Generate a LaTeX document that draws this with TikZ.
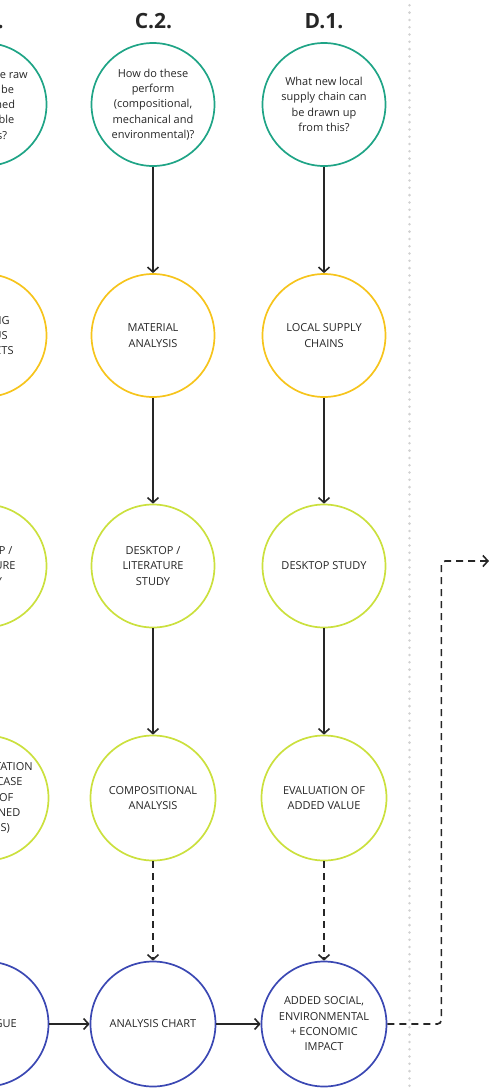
\documentclass[tikz,border=0pt]{standalone}
\usepackage{fontspec}
\setmainfont{Open Sans}
\usetikzlibrary{arrows.meta}

\definecolor{qgreen}{HTML}{1FA486}
\definecolor{syellow}{HTML}{F6C41C}
\definecolor{slime}{HTML}{CBE03E}
\definecolor{oblue}{HTML}{3B48B3}
\definecolor{ink}{HTML}{262626}
\definecolor{dotgray}{HTML}{D2D2D2}

\tikzset{
  stage/.style={circle, draw, line width=1.7pt, minimum size=123pt, inner sep=0pt,
    align=center, text=ink, font=\fontsize{11}{15.3}\selectfont},
  question/.style={stage, draw=qgreen},
  method/.style={stage, draw=syellow},
  study/.style={stage, draw=slime},
  studywide/.style={study, minimum size=125pt},
  outcome/.style={stage, draw=oblue, minimum size=125pt},
  flow/.style={draw=ink, line width=1.7pt,
    -{Straight Barb[length=5pt,width=11pt,line width=1.6pt]}},
  dflow/.style={flow, dash pattern=on 7pt off 5pt},
  heading/.style={font=\fontsize{21}{25}\selectfont\bfseries, text=ink, anchor=base},
}

\begin{document}
\begin{tikzpicture}[x=1pt, y=-1pt]
  \clip (0,0) rectangle (492,1088);

  % column divider
  \draw[dotgray, line width=2.8pt, line cap=round, dash pattern=on 0pt off 7.3pt]
    (409.5,-2) -- (409.5,1092);

  % column headings
  \node[heading] (hc1) at (-15,28) {C.1.};
  \node[heading] (hc2) at (153.5,28) {C.2.};
  \node[heading] (hd1) at (324,28) {D.1.};

  % column C.1
  \node[question] (q1) at (-15,104.5) {How can the raw\\material be\\determined\\sustainable\\sources?};
  \node[method] (m1) at (-15,335.5) {MAPPING\\VARIOUS\\PRODUCTS};
  \node[study] (s1) at (-15,566) {DESKTOP /\\LITERATURE\\STUDY};
  \node[studywide] (e1) at (-14,798) {IMPLEMENTATION\\IN A USE CASE\\(STUDY OF\\DETERMINED\\CAMPUS)};
  \node[outcome] (o1) at (-14,1024) {CATALOGUE};

  % column C.2
  \node[question] (q2) at (153,104.5) {How do these\\perform\\(compositional,\\mechanical and\\environmental)?};
  \node[method] (m2) at (153,335.5) {MATERIAL\\ANALYSIS};
  \node[study] (s2) at (153,566) {DESKTOP /\\LITERATURE\\STUDY};
  \node[studywide] (e2) at (153,798) {COMPOSITIONAL\\ANALYSIS};
  \node[outcome] (o2) at (153,1024) {ANALYSIS CHART};

  % column D.1
  \node[question] (q3) at (324,104.5) {What new local\\supply chain can\\be drawn up\\from this?};
  \node[method] (m3) at (324,335.5) {LOCAL SUPPLY\\CHAINS};
  \node[study] (s3) at (324,566) {DESKTOP STUDY};
  \node[studywide] (e3) at (324,798) {EVALUATION OF\\ADDED VALUE};
  \node[outcome] (o3) at (324,1024) {ADDED SOCIAL,\\ENVIRONMENTAL\\+ ECONOMIC\\IMPACT};

  % vertical flows
  \draw[flow] (q2.south) -- (m2.north);
  \draw[flow] (m2.south) -- (s2.north);
  \draw[flow] (s2.south) -- (e2.north);
  \draw[dflow] (e2.south) -- (o2.north);

  \draw[flow] (q3.south) -- (m3.north);
  \draw[flow] (m3.south) -- (s3.north);
  \draw[flow] (s3.south) -- (e3.north);
  \draw[dflow] (e3.south) -- (o3.north);

  % bottom row
  \draw[flow] (o1.east) -- (o2.west);
  \draw[flow] (o2.east) -- (o3.west);

  % outgoing link to the next panel
  \coordinate (exit) at (489,561);
  \draw[dflow, rounded corners=4pt] (o3.east) -- ++(54,0) |- (exit);
\end{tikzpicture}
\end{document}
